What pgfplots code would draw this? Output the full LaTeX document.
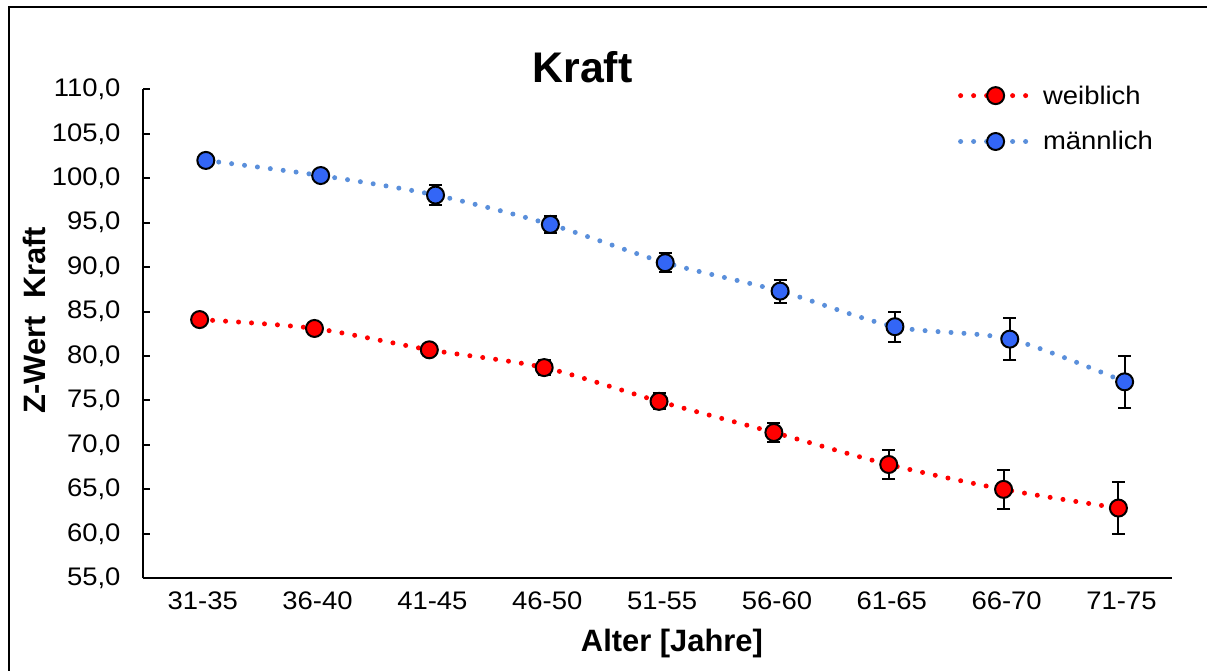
\documentclass[border=0pt]{standalone}
\usepackage{fontspec}
\setmainfont{Liberation Sans}[FakeStretch=1.08]
\newfontfamily\plainsans{Liberation Sans}
\usepackage{pgfplots}
\usepackage{pgfplotstable}
\pgfplotsset{compat=1.18}
\definecolor{redline}{HTML}{FF0000}
\definecolor{redfill}{HTML}{FF0000}
\definecolor{blueline}{HTML}{5A8FDB}
\definecolor{bluefill}{HTML}{3366F6}

\pgfplotstableread{
x y err
-0.027 84.1 0.4
0.973 83.1 0.5
1.973 80.7 0.6
2.973 78.7 0.8
3.973 74.9 0.9
4.973 71.4 1.1
5.973 67.8 1.6
6.973 65.0 2.2
7.973 62.9 2.9
}\weiblich

\pgfplotstableread{
x y err
0.027 102.0 0.5
1.027 100.3 0.6
2.027 98.1 1.1
3.027 94.8 1.0
4.027 90.5 1.1
5.027 87.3 1.3
6.027 83.3 1.7
7.027 81.9 2.4
8.027 77.1 2.9
}\maennlich

\begin{document}
\begin{tikzpicture}
\useasboundingbox (0,0) rectangle (1207bp,671bp);
\draw[line width=2bp, black] (9bp,0) -- (9bp,663.7bp) -- (1210bp,663.7bp);
\begin{axis}[
  at={(143bp,92.7bp)}, anchor=south west,
  scale only axis, width=1029bp, height=489bp,
  xmin=-0.52, xmax=8.44, ymin=55, ymax=110,
  axis x line=bottom, axis y line=left,
  axis line style={-, line width=2bp, black},
  tick align=inside,
  xtick={0,1,2,3,4,5,6,7,8},
  xticklabels={31-35,36-40,41-45,46-50,51-55,56-60,61-65,66-70,71-75},
  xtick style={draw=none},
  ytick={55,60,...,110},
  ytick style={line width=2bp, black},
  major tick length=7bp,
  /pgf/number format/.cd, fixed, fixed zerofill, precision=1, use comma, 1000 sep={}, assume math mode=true,
  /pgfplots/.cd,
  tick label style={font=\fontsize{25.5}{30}\selectfont},
  yticklabel style={xshift=-19bp},
  xticklabel style={yshift=-10bp},
  title={Kraft},
  title style={font=\plainsans\bfseries\fontsize{43}{50}\selectfont, at={(axis description cs:0.427,1.033)}, anchor=center},
  xlabel={Alter [Jahre]},
  xlabel style={font=\plainsans\bfseries\fontsize{31}{37}\selectfont, at={(axis description cs:0.514,-0.149)}, anchor=base},
  ylabel={Z-Wert\ \ Kraft},
  ylabel style={font=\plainsans\bfseries\fontsize{31}{37}\selectfont, at={(axis description cs:-0.1054,0.528)}, anchor=center, rotate=0},
  legend style={draw=none, fill=none, font=\fontsize{25.5}{30}\selectfont,
    at={(axis description cs:0.789,1.016)}, anchor=north west, cells={anchor=west},
    row sep=22bp, /tikz/every odd column/.append style={column sep=8bp}},
  legend image code/.code={\draw[mark repeat=2, mark phase=2, #1] plot coordinates {(0bp,0bp) (35bp,0bp) (70bp,0bp)};},
]
\addplot[redline, line width=5bp, line cap=round, dash pattern=on 0bp off 13bp, smooth, tension=0.5,
  mark=*, mark size=8.5bp, mark options={solid, fill=redfill, draw=black, line width=2bp},
  error bars/.cd, y dir=both, y explicit,
  error bar style={solid, line width=2bp, black, line cap=butt},
  error mark options={solid, rotate=90, mark size=6.5bp, line width=2bp, black}]
  table[x=x, y=y, y error=err] {\weiblich};
\addlegendentry{weiblich}
\addplot[blueline, line width=5bp, line cap=round, dash pattern=on 0bp off 13bp, smooth, tension=0.5,
  mark=*, mark size=8.5bp, mark options={solid, fill=bluefill, draw=black, line width=2bp},
  error bars/.cd, y dir=both, y explicit,
  error bar style={solid, line width=2bp, black, line cap=butt},
  error mark options={solid, rotate=90, mark size=6.5bp, line width=2bp, black}]
  table[x=x, y=y, y error=err] {\maennlich};
\addlegendentry{männlich}
\end{axis}
\end{tikzpicture}
\end{document}
